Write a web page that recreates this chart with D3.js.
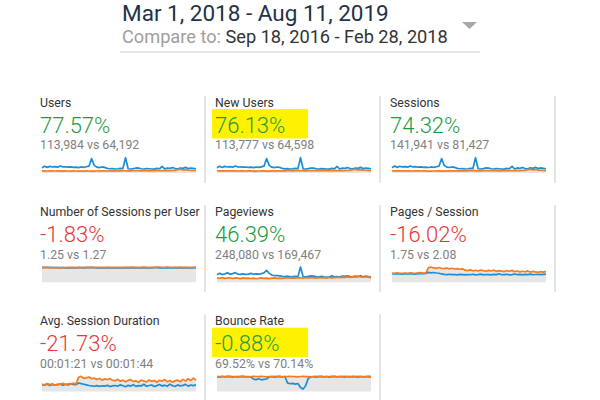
<!DOCTYPE html>
<html><head><meta charset="utf-8">
<script src="https://cdn.jsdelivr.net/npm/d3@7"></script>
<style>
body{margin:0;background:#fff;}
svg{display:block;font-family:Roboto,"Noto Sans",sans-serif;}
</style>
</head><body>
<svg id="c" width="600" height="400"></svg>
<script>
// ---------- data ----------
const dateRange = "Mar 1, 2018 - Aug 11, 2019";
const compareLabel = "Compare to: ";
const compareRange = "Sep 18, 2016 - Feb 28, 2018";

const metricNames = ["Users","New Users","Sessions","Number of Sessions per User","Pageviews","Pages / Session","Avg. Session Duration","Bounce Rate"];
const changeLabels = ["77.57%","76.13%","74.32%","-1.83%","46.39%","-16.02%","-21.73%","-0.88%"];
const changeGood = [true,true,true,false,true,false,false,true];
const totalsCurrent = ["113,984","113,777","141,941","1.25","248,080","1.75","00:01:21","69.52%"];
const totalsPrevious = ["64,192","64,598","81,427","1.27","169,467","2.08","00:01:44","70.14%"];
const highlighted = [false,true,false,false,false,false,false,true];

const usersCurrent = [260,340,280,330,300,320,290,350,300,310,290,300,280,290,270,300,280,310,340,720,380,290,270,300,280,230,210,220,200,210,230,220,760,210,200,220,250,240,210,200,220,210,200,190,230,210,330,200,250,230,270,220,210,250,230,280,220,250,230,210];
const usersPrevious = [110,105,100,108,104,100,106,102,98,104,100,98,104,100,96,92,98,102,100,96,92,100,104,108,106,100,104,108,112,106,110,114,112,108,106,112,116,114,110,116,112,108,114,118,112,116,120,114,126,120,134,130,160,190,150,170,140,134,126,118];
const newUsersCurrent = [255,335,275,325,295,318,285,345,296,305,288,296,276,288,266,296,276,306,336,715,376,286,266,296,276,226,208,218,198,208,228,218,755,208,198,218,248,238,208,198,218,208,198,188,226,208,326,198,248,228,268,218,208,248,228,278,218,248,228,208];
const newUsersPrevious = [112,106,102,110,105,101,108,103,99,105,101,99,106,101,97,94,99,104,101,97,94,101,106,110,107,101,106,110,114,107,111,116,114,110,107,114,118,116,111,118,114,110,116,120,114,118,122,116,128,122,136,132,162,188,152,168,142,136,128,120];
const sessionsCurrent = [330,430,350,415,375,400,365,440,375,390,365,375,350,365,340,375,350,390,425,900,475,365,340,375,350,290,265,275,250,265,290,275,950,265,250,275,315,300,265,250,275,265,250,240,285,265,415,250,315,290,340,275,265,315,290,350,275,315,290,265];
const sessionsPrevious = [140,134,128,138,132,128,135,130,125,132,128,125,132,128,122,118,125,130,128,122,118,128,132,138,135,128,132,138,142,135,140,145,142,138,135,142,148,145,140,148,142,138,145,150,142,148,152,145,160,152,170,165,200,240,190,215,175,170,160,150];
const sessionsPerUserCurrent = [1.27,1.29,1.28,1.27,1.26,1.26,1.25,1.26,1.25,1.24,1.25,1.24,1.25,1.24,1.26,1.25,1.24,1.26,1.25,1.27,1.25,1.24,1.25,1.23,1.24,1.25,1.23,1.24,1.25,1.24,1.23,1.24,1.26,1.24,1.23,1.25,1.24,1.23,1.24,1.25,1.24,1.23,1.24,1.25,1.26,1.24,1.23,1.24,1.25,1.24,1.23,1.25,1.24,1.23,1.24,1.25,1.24,1.23,1.24,1.25];
const sessionsPerUserPrevious = [1.25,1.26,1.25,1.24,1.25,1.26,1.25,1.24,1.26,1.25,1.26,1.27,1.26,1.25,1.27,1.26,1.27,1.28,1.27,1.26,1.28,1.27,1.26,1.28,1.27,1.29,1.27,1.28,1.26,1.28,1.27,1.29,1.28,1.27,1.30,1.28,1.27,1.29,1.28,1.30,1.28,1.27,1.29,1.28,1.30,1.31,1.28,1.29,1.30,1.28,1.27,1.29,1.28,1.30,1.28,1.29,1.27,1.28,1.29,1.30];
const pageviewsCurrent = [640,760,660,720,800,690,740,820,700,680,720,660,700,760,680,720,690,740,800,1020,760,620,560,580,540,500,480,520,470,490,510,480,1300,470,460,500,540,520,480,460,500,470,450,430,560,470,480,450,520,500,540,480,460,520,490,560,470,520,480,440];
const pageviewsPrevious = [380,340,400,330,360,390,320,370,350,310,380,340,360,320,350,300,340,370,330,360,310,350,380,340,360,330,370,390,350,380,360,400,370,350,390,360,410,380,350,400,370,390,360,410,380,400,430,390,440,410,460,420,480,440,500,460,430,470,440,400];
const pagesPerSessionCurrent = [1.62,1.58,1.66,1.60,1.55,1.63,1.57,1.65,1.60,1.56,1.64,1.70,1.62,1.68,1.88,1.80,1.86,1.76,1.72,1.58,1.50,1.46,1.52,1.44,1.48,1.42,1.50,1.45,1.40,1.47,1.43,1.52,1.41,1.46,1.55,1.42,1.48,1.44,1.40,1.50,1.45,1.62,1.43,1.47,1.52,1.41,1.46,1.58,1.44,1.49,1.42,1.50,1.46,1.56,1.43,1.48,1.52,1.45,1.50,1.55];
const pagesPerSessionPrevious = [1.74,1.70,1.78,1.72,1.68,1.76,1.71,1.79,1.73,1.69,1.77,1.82,1.75,1.80,2.78,2.90,2.72,2.65,2.80,2.62,2.58,2.70,2.55,2.66,2.52,2.60,2.48,2.56,2.30,2.22,2.36,2.18,2.28,2.14,2.32,2.20,2.10,2.26,2.15,2.30,2.08,2.22,2.12,2.04,2.20,2.10,2.26,2.02,2.14,1.98,2.10,2.00,2.16,1.94,2.06,1.96,1.90,2.02,1.92,2.06];
const avgDurationCurrent = [92,84,98,80,94,86,90,100,82,96,88,104,94,90,112,104,96,88,80,74,70,78,68,76,72,82,66,74,80,70,88,76,64,82,72,90,68,78,74,96,70,80,86,66,78,92,72,84,70,98,76,68,88,74,82,94,72,86,78,90];
const avgDurationPrevious = [96,88,104,92,100,86,98,94,108,90,102,96,110,100,186,200,172,180,190,168,176,160,172,150,166,158,170,148,142,160,136,150,128,146,156,132,140,120,150,138,126,152,134,144,122,148,136,158,130,146,124,140,150,128,160,138,168,146,176,150];
const bounceRateCurrent = [72,70,73,71,74,72,70,73,71,72,74,71,73,70,60,58,62,57,59,61,71,73,70,72,74,71,73,42,38,40,36,39,20,12,30,64,71,73,70,72,74,71,73,70,72,74,71,73,72,70,73,71,74,72,70,73,71,72,74,72];
const bounceRatePrevious = [73,72,74,73,72,74,73,71,73,74,72,73,71,72,74,73,72,74,73,71,73,72,74,73,72,71,73,72,74,73,72,71,73,74,72,73,71,72,74,73,72,71,73,72,74,73,71,72,73,74,72,73,71,72,74,73,72,73,71,72];

const seriesCurrent = [usersCurrent,newUsersCurrent,sessionsCurrent,sessionsPerUserCurrent,pageviewsCurrent,pagesPerSessionCurrent,avgDurationCurrent,bounceRateCurrent];
const seriesPrevious = [usersPrevious,newUsersPrevious,sessionsPrevious,sessionsPerUserPrevious,pageviewsPrevious,pagesPerSessionPrevious,avgDurationPrevious,bounceRatePrevious];

// ---------- drawing ----------
const svg = d3.select("#c");
const C = {navy:"#1f3347", title:"#333333", sub:"#808080", green:"#1e9a44", red:"#e53935",
  blue:"#1a8fd8", orange:"#f47c20", area:"#e6e6e6", sep:"#e4e4e4", yellow:"#fef200"};

// header
svg.append("text").attr("x",122).attr("y",21).attr("font-size",22.5).attr("fill",C.navy).text(dateRange);
const cmp = svg.append("text").attr("x",122).attr("y",43).attr("font-size",18.2);
cmp.append("tspan").attr("fill","#9e9e9e").text(compareLabel);
cmp.append("tspan").attr("fill","#333").text(compareRange);
svg.append("path").attr("d","M462,22L477,22L469.5,29Z").attr("fill","#a8a8a8");
svg.append("line").attr("x1",120).attr("x2",480).attr("y1",52).attr("y2",52).attr("stroke","#e6e6e6").attr("stroke-width",2);

const metrics = metricNames.map((name,i)=>({name, change:changeLabels[i], good:changeGood[i],
  cur:totalsCurrent[i], prev:totalsPrevious[i], hi:highlighted[i], a:seriesCurrent[i], b:seriesPrevious[i]}));

const colX0 = 40, colW = 175, rowY0 = 106.7, rowH = 109.3;
const chartW = 154, chartTop = 51, chartBottom = 66.3;

metrics.forEach((m,i)=>{
  const col = i%3, row = Math.floor(i/3);
  const x0 = colX0 + col*colW, y0 = rowY0 + row*rowH;
  const g = svg.append("g").attr("transform",`translate(${x0},${y0})`);
  g.append("line").attr("x1",colW-10).attr("x2",colW-10).attr("y1",-11).attr("y2",76)
    .attr("stroke",C.sep).attr("stroke-width",2);
  if(m.hi) g.append("rect").attr("x",-3).attr("y",2.4).attr("width",96).attr("height",29.4).attr("fill",C.yellow);
  g.append("text").attr("x",0).attr("y",0).attr("font-size",12.3).attr("fill",C.title).text(m.name);
  g.append("text").attr("x",0).attr("y",26).attr("font-size",22).attr("font-weight",300).attr("fill",m.good?C.green:C.red).text(m.change);
  g.append("text").attr("x",0).attr("y",42.6).attr("font-size",12.3).attr("fill",C.sub).text(`${m.cur} vs ${m.prev}`);

  const n = m.a.length;
  const x = d3.scaleLinear().domain([0,n-1]).range([2,2+chartW]);
  const y = d3.scaleLinear().domain([0,d3.max(m.a.concat(m.b))]).range([chartBottom,chartTop]);
  g.append("path").datum(m.b)
    .attr("d",d3.area().x((d,k)=>x(k)).y0(chartBottom).y1(d=>y(d)))
    .attr("fill",C.area);
  const line = d3.line().x((d,k)=>x(k)).y(d=>y(d));
  g.append("path").datum(m.a).attr("d",line).attr("fill","none").attr("stroke",C.blue).attr("stroke-width",1.7).attr("stroke-linejoin","round");
  g.append("path").datum(m.b).attr("d",line).attr("fill","none").attr("stroke",C.orange).attr("stroke-width",1.7).attr("stroke-linejoin","round");
});
</script>
</body></html>
